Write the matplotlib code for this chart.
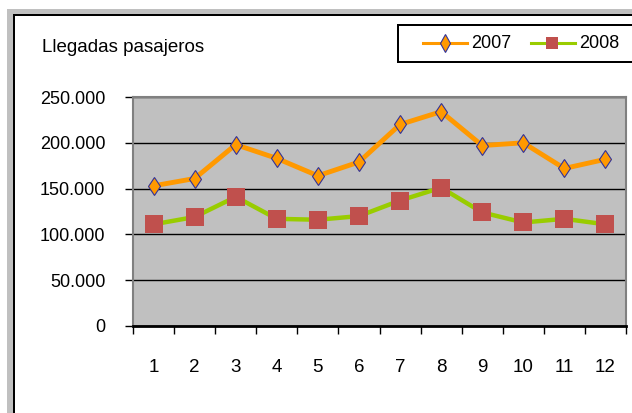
import matplotlib
matplotlib.use("Agg")
import matplotlib.pyplot as plt
from matplotlib.patches import Rectangle
from matplotlib.lines import Line2D
from matplotlib.ticker import FuncFormatter, FixedLocator

plt.rcParams['font.family'] = ['Liberation Sans', 'DejaVu Sans']

months = [1, 2, 3, 4, 5, 6, 7, 8, 9, 10, 11, 12]
llegadas_2007 = [153000, 161000, 198000, 183000, 164000, 179000, 220000, 234000, 197000, 200000, 172000, 182000]
llegadas_2008 = [111000, 119000, 141000, 117000, 116000, 120000, 137000, 151000, 124000, 113000, 117000, 111000]
y_ticks = [0, 50000, 100000, 150000, 200000, 250000]
title = "Llegadas pasajeros"
labels = ["2007", "2008"]

W, H = 632, 413
fig = plt.figure(figsize=(W / 100, H / 100), dpi=100)
fig.patch.set_facecolor("white")

# outer chart frame (gray band + black border at top and left)
def px_rect(x0, y0, x1, y1, color):
    fig.patches.append(Rectangle((x0 / W, 1 - y1 / H), (x1 - x0) / W, (y1 - y0) / H,
                                 transform=fig.transFigure, facecolor=color,
                                 edgecolor="none", zorder=0))

px_rect(7, 9, W, 14, "#c0c0c0")
px_rect(7, 9, 13, H, "#c0c0c0")
px_rect(13, 14, W, 16, "black")
px_rect(13, 14, 15, H, "black")

ax = fig.add_axes([133 / W, 87 / H, 493 / W, 229 / H])
ax.set_facecolor("#c0c0c0")
ax.set_xlim(0.5, 12.5)
ax.set_ylim(0, 250000)

ax.yaxis.set_major_locator(FixedLocator(y_ticks))
ax.yaxis.set_major_formatter(FuncFormatter(lambda v, p: f"{int(v):,}".replace(",", ".")))
ax.grid(axis="y", color="black", linewidth=1.0, zorder=1)
ax.set_axisbelow(True)

ax.set_xticks(months)
ax.set_xticklabels([str(m) for m in months])
ax.set_xticks([m + 0.5 for m in [0] + months], minor=True)
ax.tick_params(axis="x", which="major", length=0, pad=24, labelsize=13.5)
ax.tick_params(axis="x", which="minor", length=6, width=1, direction="out", color="black")
ax.tick_params(axis="y", length=6, width=1, direction="out", color="black", pad=14, labelsize=13)

for s in ["left", "top", "right"]:
    ax.spines[s].set_color("#808080")
    ax.spines[s].set_linewidth(1.5)
ax.spines["bottom"].set_color("black")
ax.spines["bottom"].set_linewidth(2)

ax.plot(months, llegadas_2007, color="#ff9900", linewidth=3.5, marker="d",
        markersize=9.5, markerfacecolor="#ff9900", markeredgecolor="#333399",
        markeredgewidth=0.8, zorder=4, label=labels[0])
ax.plot(months, llegadas_2008, color="#99cc00", linewidth=3.2, marker="s",
        markersize=13.5, markerfacecolor="#c0504d", markeredgecolor="#c0504d",
        markeredgewidth=0, zorder=3, label=labels[1])

fig.text(42 / W, 1 - 47 / H, title, fontsize=13.5, va="center", ha="left")

# legend box (cut off at right edge like reference)
px_rect(397, 24, W + 5, 26, "black")
px_rect(397, 24, 399, 62, "black")
px_rect(397, 61, W + 5, 63, "black")

leg_y = 1 - 43 / H
fig.lines.append(Line2D([423 / W, 467 / W], [leg_y, leg_y], transform=fig.transFigure,
                        color="#ff9900", linewidth=2.2))
fig.lines.append(Line2D([445 / W], [leg_y], transform=fig.transFigure, marker="d",
                        markersize=9, markerfacecolor="#ff9900", markeredgecolor="#333399",
                        markeredgewidth=0.8, linestyle="none"))
fig.text(471 / W, leg_y, labels[0], fontsize=13, va="center", ha="left")
fig.lines.append(Line2D([531 / W, 575 / W], [leg_y, leg_y], transform=fig.transFigure,
                        color="#99cc00", linewidth=2.2))
fig.lines.append(Line2D([552 / W], [leg_y], transform=fig.transFigure, marker="s",
                        markersize=9, markerfacecolor="#c0504d", markeredgewidth=0,
                        linestyle="none"))
fig.text(579 / W, leg_y, labels[1], fontsize=13, va="center", ha="left")

fig.savefig("out.png", dpi=100)
